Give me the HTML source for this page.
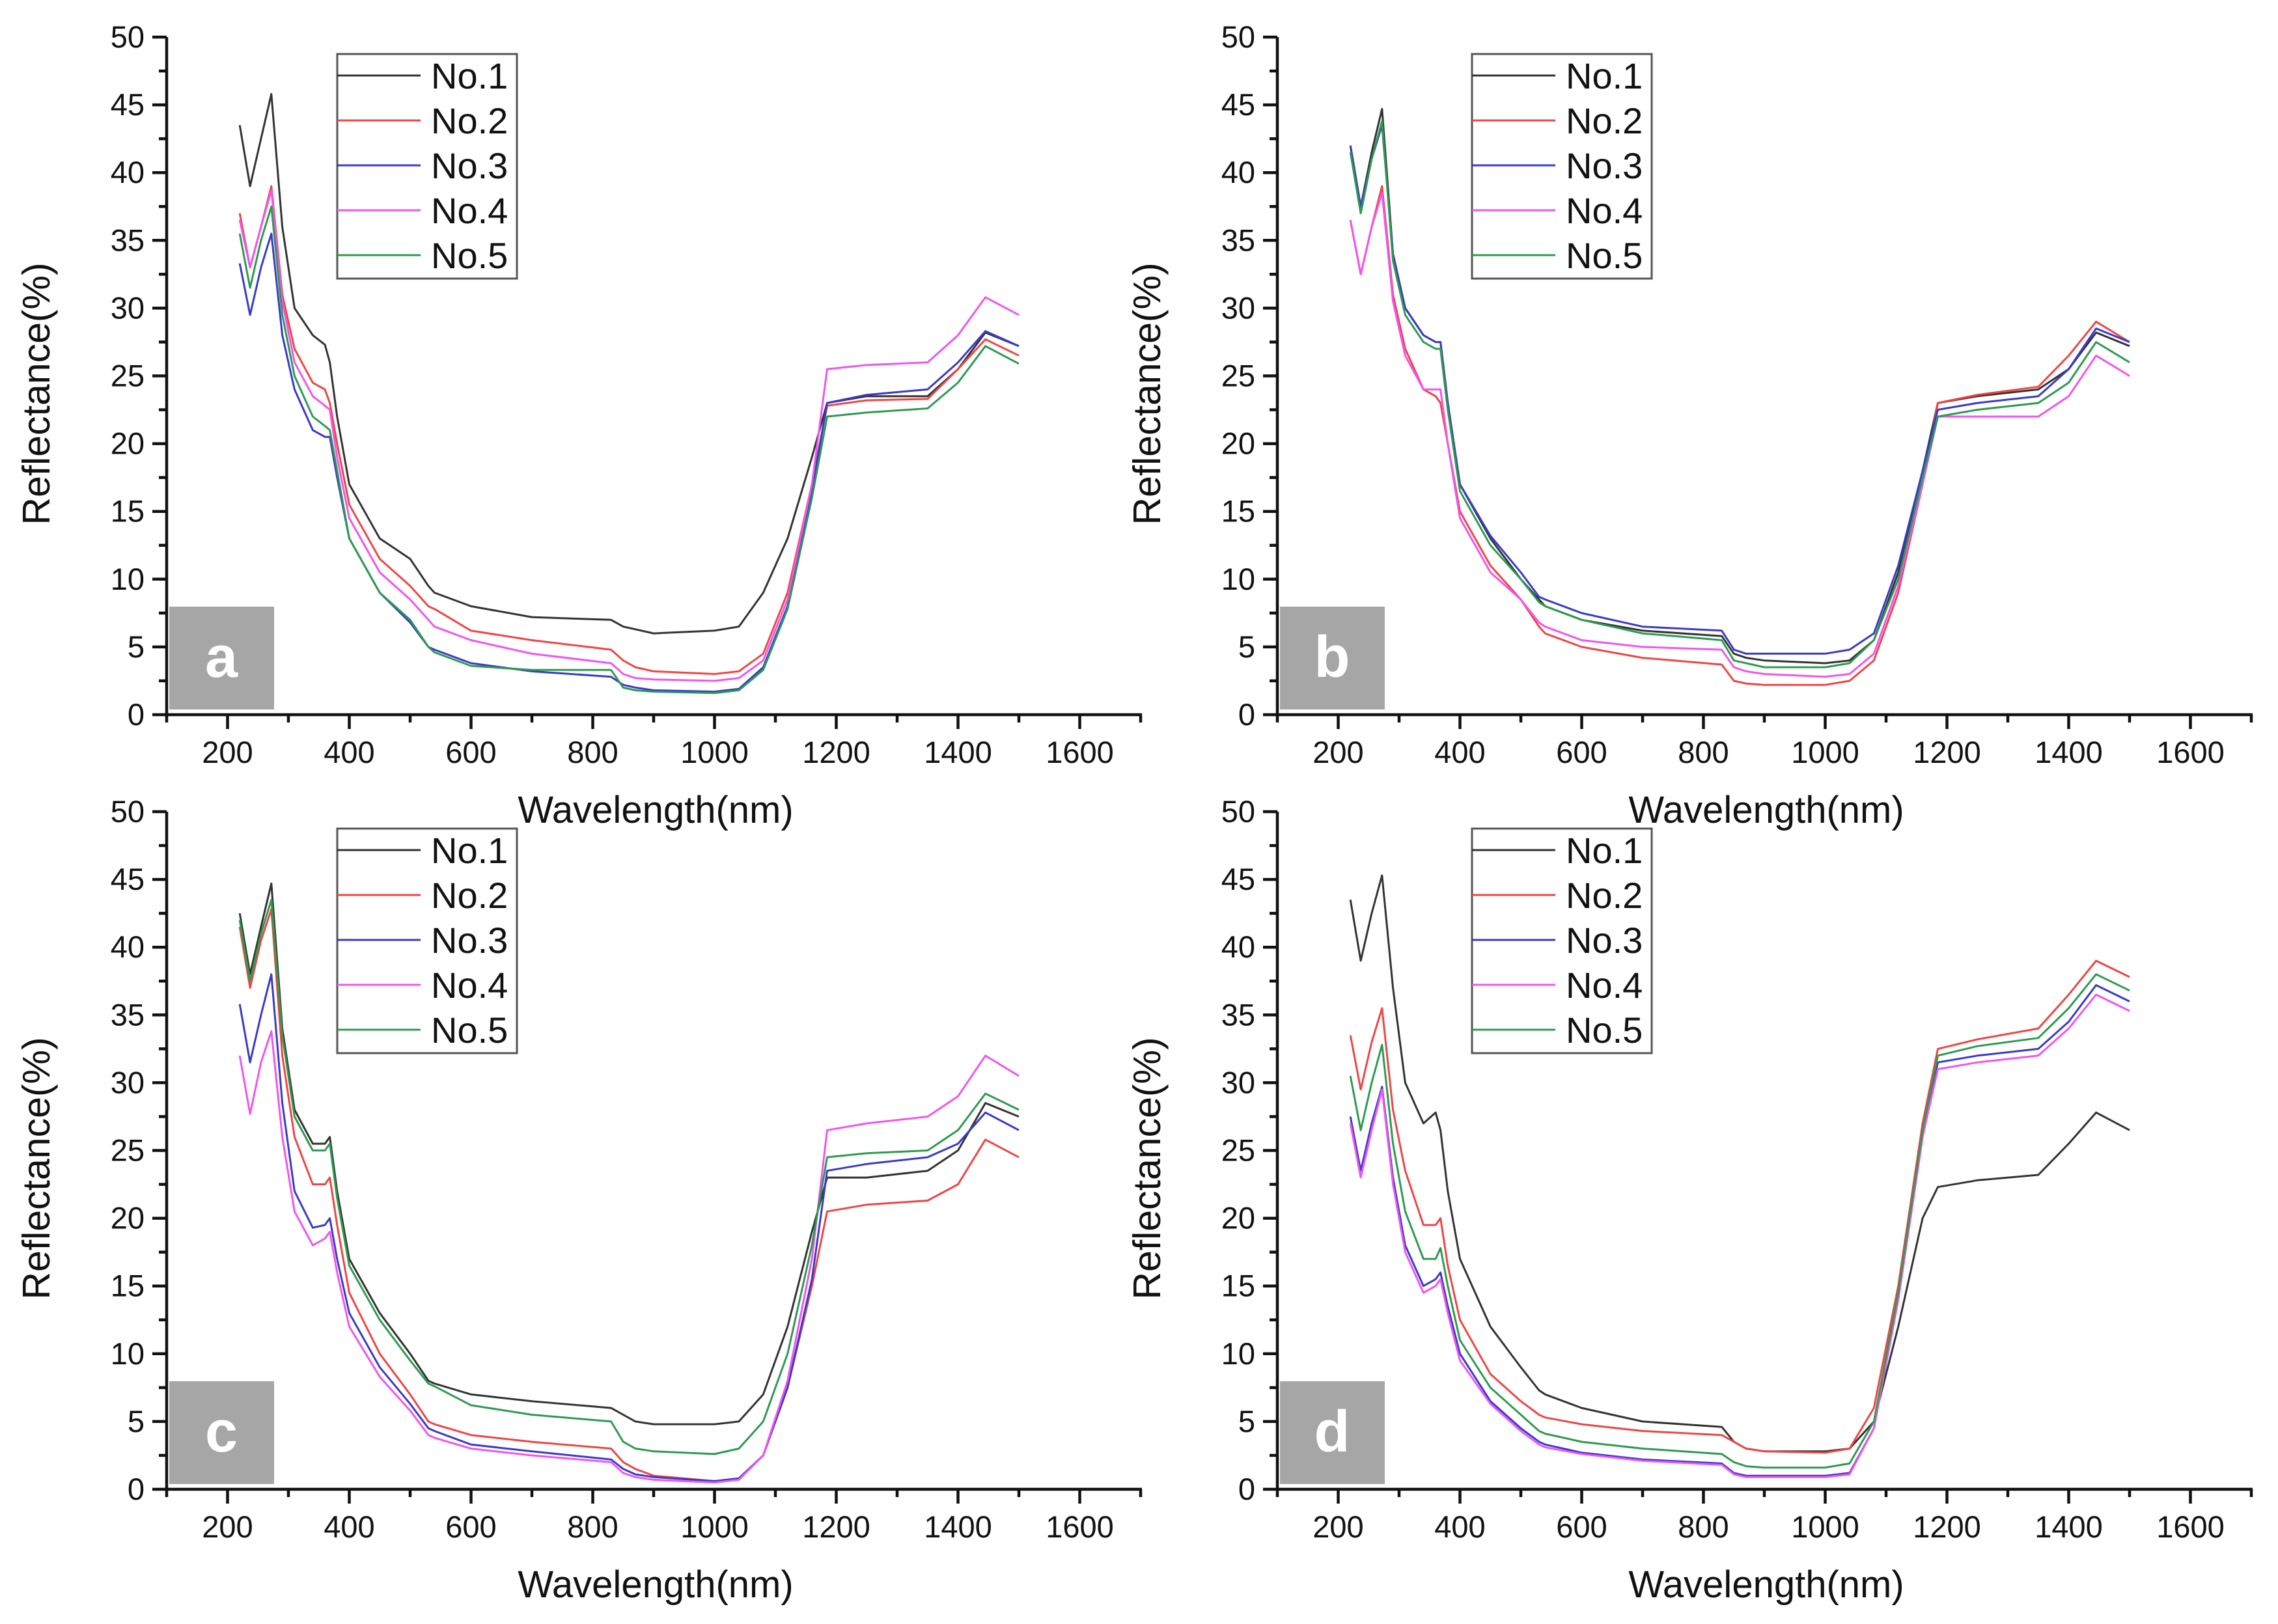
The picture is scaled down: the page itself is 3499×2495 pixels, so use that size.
<!DOCTYPE html>
<html><head><meta charset="utf-8"><style>
html,body{margin:0;padding:0;background:#fff;}
svg{display:block;}
text{font-family:"Liberation Sans",Arial,sans-serif;fill:#111;}
</style></head><body>
<svg id="chart" width="3499" height="2495" viewBox="0 0 3499 2495" xmlns="http://www.w3.org/2000/svg"></svg>
<script>
const wavelengths=[220,237,255,272,290,310,340,360,368,380,400,450,500,530,540,600,700,830,850,870,900,1000,1040,1080,1120,1160,1185,1250,1350,1400,1445,1500];
const seriesNames=["No.1","No.2","No.3","No.4","No.5"];
const seriesColors=["#333333","#f04545","#3a3ac8","#f055f0","#2e9a50"];
const panelLabels=["a","b","c","d"];
const xTicks=[200,400,600,800,1000,1200,1400,1600];
const yTicks=[0,5,10,15,20,25,30,35,40,45,50];
const panelA=[
[43.5,39,42.5,45.8,36,30,28,27.3,26,22,17,13,11.5,9.5,9,8,7.2,7,6.5,6.3,6,6.2,6.5,9,13,19,23,23.5,23.5,25.5,28.2,27.2],
[37,33,36,39,31,27,24.5,24,23,20,15.5,11.5,9.5,8,7.8,6.2,5.5,4.8,4,3.5,3.2,3,3.2,4.5,9,17,22.8,23.2,23.3,25.5,27.7,26.5],
[33.3,29.5,33,35.5,28,24,21,20.5,20.5,17.5,13,9,6.8,5,4.8,3.8,3.2,2.8,2.2,2,1.8,1.7,1.9,3.5,8,16.5,23,23.6,24,26,28.3,27.2],
[36.5,33,36,38.7,30.5,26,23.5,22.8,22.5,19,14.5,10.5,8.5,7,6.5,5.5,4.5,3.8,3,2.7,2.6,2.5,2.7,4,8.5,17,25.5,25.8,26,28,30.8,29.5],
[35.5,31.5,35,37.5,29.5,25,22,21.3,21,18,13,9,7,5,4.6,3.6,3.3,3.3,2,1.8,1.7,1.6,1.8,3.3,7.8,16,22,22.3,22.6,24.5,27.2,25.9]];
const panelB=[
[42,37.5,41.5,44.7,34,30,28,27.5,27.5,23,17,13,10,8.5,8,7,6.2,5.8,4.5,4.2,4,3.8,4,5.5,10.5,18,23,23.5,24,25.5,28.2,27.2],
[36.5,32.5,36,39,31,27,24,23.5,23,20,15,11,8.5,6.5,6,5,4.2,3.7,2.5,2.3,2.2,2.2,2.5,4,9,17,23,23.6,24.2,26.5,29,27.5],
[42,37.5,41,43.5,34,30,28,27.5,27.5,23,17,13.2,10.5,8.7,8.5,7.5,6.5,6.2,4.8,4.5,4.5,4.5,4.8,6,11,18,22.5,23,23.5,25.5,28.5,27.5],
[36.5,32.5,36,38.5,30.5,26.5,24,24,24,20,14.5,10.5,8.5,6.8,6.5,5.5,5,4.8,3.5,3.2,3,2.8,3,4.5,9.5,17,22,22,22,23.5,26.5,25],
[41.5,37,41,43.8,33.5,29.5,27.5,27,27,22.5,16.5,12.5,10,8.3,8,7,6,5.5,4,3.8,3.5,3.5,3.8,5.5,10,17.5,22,22.5,23,24.5,27.5,26]];
const panelC=[
[42.5,38,41.5,44.7,34,28,25.5,25.5,26,22,17,13,10,8,7.8,7,6.5,6,5.5,5,4.8,4.8,5,7,12,19,23,23,23.5,25,28.5,27.5],
[41.5,37,40.5,42.8,32,26,22.5,22.5,23,19.5,14.5,10,7,5,4.8,4,3.5,3,2,1.5,1,0.6,0.8,2.5,7.5,15,20.5,21,21.3,22.5,25.8,24.5],
[35.8,31.5,35,38,28.5,22,19.3,19.5,20,17,13,9,6.3,4.5,4.3,3.3,2.8,2.2,1.5,1.1,0.9,0.6,0.8,2.5,7.5,15.5,23.5,24,24.5,25.5,27.8,26.5],
[32,27.7,31.5,33.8,26,20.5,18,18.5,19,16,12,8.3,5.8,4,3.8,3,2.5,2,1.2,0.9,0.7,0.5,0.7,2.5,8,17,26.5,27,27.5,29,32,30.5],
[42,37.5,41,43.5,33.5,27.5,25,25,25.5,21.5,16.5,12.5,9.5,7.8,7.6,6.2,5.5,5,3.5,3,2.8,2.6,3,5,10,18,24.5,24.8,25,26.5,29.2,28]];
const panelD=[
[43.5,39,42.5,45.3,37,30,27,27.8,26.5,22,17,12,9,7.3,7,6,5,4.6,3.5,3,2.8,2.8,3,5,12,20,22.3,22.8,23.2,25.5,27.8,26.5],
[33.5,29.5,33,35.5,28,23.5,19.5,19.5,20,16.5,12.5,8.5,6.5,5.5,5.3,4.8,4.3,4,3.5,3,2.8,2.7,3,6,15,27,32.5,33.2,34,36.5,39,37.8],
[27.5,23.5,27,29.7,23,18,15,15.5,16,13.5,10,6.5,4.5,3.5,3.3,2.7,2.2,1.9,1.2,1,1,1,1.2,4.5,14,26,31.5,32,32.5,34.5,37.2,36],
[27,23,26.5,29.5,22.5,17.5,14.5,15,15.5,13,9.5,6.3,4.3,3.3,3.1,2.6,2.1,1.8,1.1,0.9,0.9,0.9,1.1,4.5,14,26,31,31.5,32,34,36.5,35.3],
[30.5,26.5,30,32.8,25.5,20.5,17,17,17.8,15,11,7.5,5.5,4.3,4.1,3.5,3,2.6,2,1.7,1.6,1.6,1.9,5,14.5,26.5,32,32.7,33.3,35.5,38,36.8]];
const panelData=[panelA,panelB,panelC,panelD];

const NS="http://www.w3.org/2000/svg";
const svg=document.getElementById('chart');
function mk(tag,attrs,parent){const e=document.createElementNS(NS,tag);for(const k in attrs)e.setAttribute(k,attrs[k]);parent.appendChild(e);return e;}
const offsets=[[0,0],[1706,0],[0,1190],[1706,1190]];
const X0=256,Y0=1098;
function xs(w){return X0+(w-100)*0.935;}
function ys(v){return Y0-v*20.82;}

panelData.forEach((series,pi)=>{
  const [ox,oy]=offsets[pi];
  const g=mk('g',{transform:`translate(${ox},${oy})`},svg);
  
  
  const lb=mk('rect',{x:260,y:932,width:161,height:158,fill:'#a6a6a6'},g);
  
  
  const lt=mk('text',{x:340,y:1040,'text-anchor':'middle','font-size':90,'font-weight':'bold',style:'fill:#fff'},g);
  lt.textContent=panelLabels[pi];
  
  
  series.forEach((vals,si)=>{
    const d=vals.map((v,i)=>(i?'L':'M')+xs(wavelengths[i]).toFixed(1)+' '+ys(v).toFixed(1)).join(' ');
    const p=mk('path',{d:d,fill:'none',stroke:seriesColors[si],'stroke-width':3,'stroke-linejoin':'round'},g);
    
    
  });
  const ax=mk('g',{stroke:'#111','stroke-width':4.5,fill:'none'},g);
  
  
  mk('line',{x1:X0,y1:ys(50),x2:X0,y2:Y0+2},ax);
  mk('line',{x1:X0-2,y1:Y0,x2:xs(1700)+2,y2:Y0},ax);
  for(let w=100;w<=1700;w+=100){const maj=(w%200===0);mk('line',{x1:xs(w),y1:Y0,x2:xs(w),y2:Y0+(maj?22:12)},ax);}
  for(let v=0;v<=50;v+=2.5){const maj=(v%5===0);mk('line',{x1:X0,y1:ys(v),x2:X0-(maj?22:12),y2:ys(v)},ax);}
  xTicks.forEach(t=>{const e=mk('text',{x:xs(t),y:1172,'text-anchor':'middle','font-size':47},g);e.textContent=t;
    
    });
  yTicks.forEach(t=>{const e=mk('text',{x:222,y:ys(t)+16,'text-anchor':'end','font-size':47},g);e.textContent=t;
    
    });
  const xt=mk('text',{x:1007,y:1264,'text-anchor':'middle','font-size':58},g);xt.textContent='Wavelength(nm)';
  
  
  const yt=mk('text',{x:0,y:0,'text-anchor':'middle','font-size':59,transform:'translate(76,605) rotate(-90)'},g);yt.textContent='Reflectance(%)';
  
  
  const lx=(pi%2===0)?518:555, ly=83;
  const lg=mk('g',{},g);
  
  
  mk('rect',{x:lx,y:ly,width:276,height:345,fill:'#fff',stroke:'#555','stroke-width':3},lg);
  seriesNames.forEach((n,si)=>{
    const yy=ly+33+si*69;
    const le=mk('g',{},lg);
    
    
    mk('line',{x1:lx,y1:yy,x2:lx+128,y2:yy,stroke:seriesColors[si],'stroke-width':3},le);
    const t=mk('text',{x:lx+144,y:yy+20,'font-size':56},le);t.textContent=n;
  });
});
</script>
</body></html>
